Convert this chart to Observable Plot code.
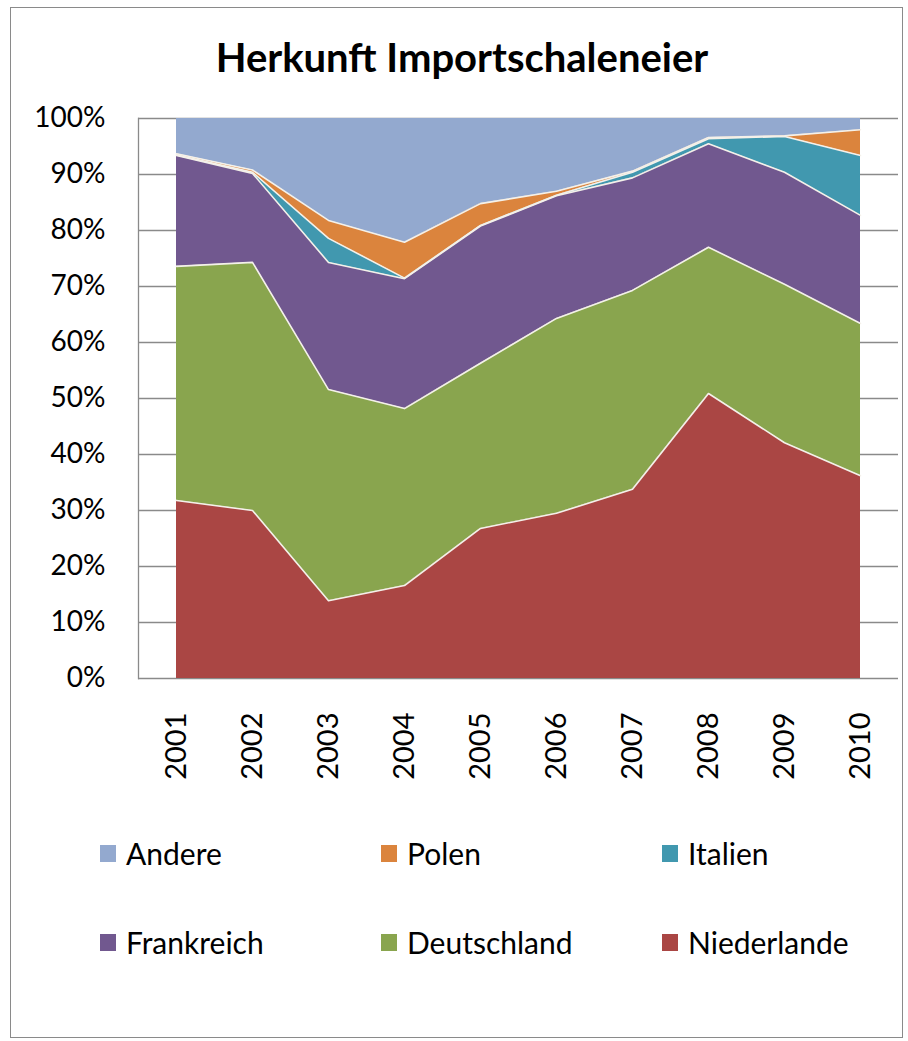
<!DOCTYPE html>
<html>
<head>
<meta charset="utf-8">
<script src="https://cdn.jsdelivr.net/npm/d3@7"></script>
<script src="https://cdn.jsdelivr.net/npm/@observablehq/plot@0.6"></script>
<style>
  html, body { margin: 0; padding: 0; background: #fff; }
  body { width: 908px; height: 1041px; position: relative; overflow: hidden; font-family: Lato, "Open Sans", sans-serif; color: #000; }
  #frame { position: absolute; left: 10px; top: 7px; width: 893px; height: 1031px; border: 1.5px solid #8a8a8a; box-sizing: border-box; pointer-events: none; }
  #title { height: 100px; box-sizing: border-box; padding-top: 35px; text-align: center; font-weight: 700; font-size: 40px; line-height: 44px; padding-left: 16px; }
  #chart svg { display: block; }
  #legend { position: relative; height: 200px; }
  .item { position: absolute; font-size: 30px; line-height: 32px; display: flex; align-items: center; white-space: nowrap; }
  .sw { width: 16px; height: 17px; margin-right: 10px; display: inline-block; }
</style>
</head>
<body>
<div id="frame"></div>
<div id="title">Herkunft Importschaleneier</div>
<div id="chart"></div>
<div id="legend"></div>
<script>
const years = ["2001","2002","2003","2004","2005","2006","2007","2008","2009","2010"];
const countries = ["Niederlande","Deutschland","Frankreich","Italien","Polen","Andere"];
const colors = ["#AA4644","#89A54E","#71588F","#4198AF","#DB843D","#93A9CF"];
const niederlande = [31.8, 30.0, 13.9, 16.6, 26.8, 29.5, 33.8, 50.9, 42.1, 36.2];
const deutschland = [41.8, 44.3, 37.7, 31.6, 29.5, 34.8, 35.5, 26.1, 28.3, 27.2];
const frankreich  = [19.8, 15.9, 22.7, 23.2, 24.5, 21.9, 20.1, 18.5, 20.0, 19.3];
const italien     = [0.1, 0.2, 4.3, 0.1, 0.1, 0.1, 1.0, 0.9, 6.4, 10.7];
const polen       = [0.2, 0.4, 3.2, 6.4, 3.9, 0.7, 0.2, 0.2, 0.1, 4.6];
const andere      = [6.3, 9.2, 18.2, 22.1, 15.2, 13.0, 9.4, 3.4, 3.1, 2.0];
const yTicks = [0, 0.1, 0.2, 0.3, 0.4, 0.5, 0.6, 0.7, 0.8, 0.9, 1.0];
const legendRows = [["Andere","Polen","Italien"],["Frankreich","Deutschland","Niederlande"]];

const seriesValues = [niederlande, deutschland, frankreich, italien, polen, andere];
const data = [];
countries.forEach((c, i) => years.forEach((y, j) => data.push({year: y, country: c, value: seriesValues[i][j]})));

const stackOpts = {x: "year", y: "value", z: "country", order: countries, offset: "normalize"};

const plot = Plot.plot({
  width: 908,
  height: 720,
  marginLeft: 138,
  marginRight: 10,
  marginTop: 18,
  marginBottom: 142,
  style: {fontFamily: "Lato, 'Open Sans', sans-serif", fontSize: "28px", color: "#000", background: "transparent"},
  x: {type: "point", domain: years, padding: 0.5, label: null},
  y: {domain: [0, 1], label: null},
  color: {domain: countries, range: colors},
  opacity: {domain: [0, 1], range: [0, 1]},
  marks: [
    Plot.gridY(yTicks, {stroke: "#8a8a8a", strokeOpacity: 1, strokeWidth: 1.3}),
    Plot.areaY(data, Plot.stackY({...stackOpts, fill: "country"})),
    Plot.lineY(data, Plot.stackY2({...stackOpts, stroke: "#f4f1ea", strokeWidth: 1.6,
      strokeOpacity: d => d.country === "Andere" ? 0 : 1})),
    Plot.frame({anchor: "left", stroke: "#8a8a8a", strokeWidth: 1.3}),
    Plot.axisY(yTicks, {tickSize: 0, tickPadding: 33, tickFormat: d3.format(".0%"), fontSize: 28}),
    Plot.axisX(years, {tickSize: 0, tickPadding: 34, tickRotate: -90, fontSize: 29})
  ]
});
document.getElementById("chart").appendChild(plot);

const legend = document.getElementById("legend");
const colX = [100, 381, 662];
const rowY = [17, 106];
legendRows.forEach((row, r) => row.forEach((name, c) => {
  const el = document.createElement("div");
  el.className = "item";
  el.style.left = colX[c] + "px";
  el.style.top = rowY[r] + "px";
  const sw = document.createElement("span");
  sw.className = "sw";
  sw.style.background = colors[countries.indexOf(name)];
  el.appendChild(sw);
  el.appendChild(document.createTextNode(name));
  legend.appendChild(el);
}));
</script>
</body>
</html>
